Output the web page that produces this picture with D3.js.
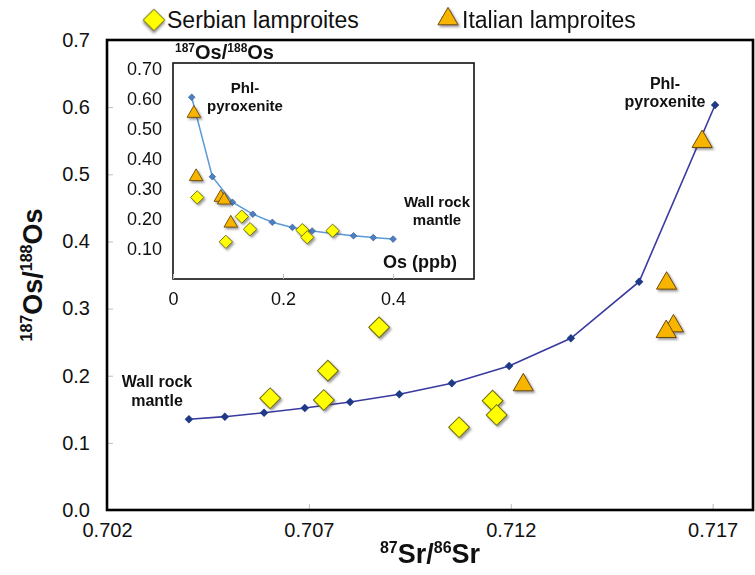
<!DOCTYPE html>
<html>
<head>
<meta charset="utf-8">
<script src="https://cdn.jsdelivr.net/npm/d3@7"></script>
<style>
  body { margin: 0; background: #fff; }
  svg { display: block; }
  text { font-family: "Liberation Sans", Arial, Helvetica, sans-serif; fill: #111; }
</style>
</head>
<body>
<svg id="chart" width="755" height="575"></svg>
<script>
// Mixing model: wall-rock mantle -> phlogopite pyroxenite (87Sr/86Sr vs 187Os/188Os)
const mixSr  = [0.70403, 0.70492, 0.70589, 0.70690, 0.70802, 0.70924, 0.71054, 0.71196, 0.71349, 0.71518, 0.71706];
const mixOs  = [0.1351, 0.1390, 0.1449, 0.1519, 0.1609, 0.1723, 0.1887, 0.2145, 0.2557, 0.3400, 0.6032];

// Serbian lamproites
const serbianSr = [0.70604, 0.70737, 0.70747, 0.70874, 0.71072, 0.71155, 0.71165];
const serbianOs = [0.1664, 0.1638, 0.2075, 0.2721, 0.1232, 0.1628, 0.1415];

// Italian lamproites
const italianSr = [0.71231, 0.71586, 0.71603, 0.71585, 0.71674];
const italianOs = [0.1862, 0.3376, 0.2740, 0.2656, 0.5486];

// Inset: Os concentration (ppb) vs 187Os/188Os
const mixPpb     = [0.034, 0.0715, 0.108, 0.145, 0.1805, 0.217, 0.253, 0.290, 0.328, 0.364, 0.400];
const mixRatio   = [0.606, 0.341, 0.256, 0.216, 0.189, 0.172, 0.160, 0.152, 0.144, 0.138, 0.133];
const serbianPpb   = [0.044, 0.125, 0.140, 0.096, 0.235, 0.244, 0.290];
const serbianRatio = [0.272, 0.208, 0.166, 0.124, 0.163, 0.139, 0.161];
const italianPpb   = [0.038, 0.042, 0.087, 0.093, 0.105];
const italianRatio = [0.552, 0.341, 0.272, 0.263, 0.186];

// Tick values
const xTicks = [0.702, 0.707, 0.712, 0.717];
const yTicks = [0.0, 0.1, 0.2, 0.3, 0.4, 0.5, 0.6, 0.7];
const insetXTicks = [0, 0.2, 0.4];
const insetYTicks = [0.10, 0.20, 0.30, 0.40, 0.50, 0.60, 0.70];

const svg = d3.select("#chart");

const COLORS = {
  yellow: "#ffff00", yellowStroke: "#6f6a10",
  orange: "#f7b500", orangeStroke: "#6b4a08",
  navy: "#1f3a86", navyLine: "#3a3aa0",
  lightLine: "#5a9ad6", lightMark: "#4e7fc0", lightMarkStroke: "#2d5290",
  tick: "#bdbdbd"
};

// soft drop shadow under the sample markers
const defs = svg.append("defs");
const f = defs.append("filter").attr("id", "shadow")
  .attr("x", "-50%").attr("y", "-50%").attr("width", "200%").attr("height", "200%");
f.append("feDropShadow").attr("dx", 1.6).attr("dy", 1.8).attr("stdDeviation", 1.1)
  .attr("flood-color", "#444").attr("flood-opacity", 0.55);

const diamond = area => d3.symbol(d3.symbolSquare, area)();
const triangle = area => d3.symbol(d3.symbolTriangle, area)();

// superscripted ratio label, e.g. 187Os/188Os
function isotopeLabel(sel, parts, big, small) {
  const shift = Math.round(small * 0.62);
  parts.forEach(([sup, txt]) => {
    sel.append("tspan").attr("font-size", small).attr("dy", -shift).text(sup);
    sel.append("tspan").attr("font-size", big).attr("dy", shift).text(txt);
  });
}

// ---------- main panel ----------
const x = d3.scaleLinear().domain([0.702, 0.718]).range([107, 753]);
const y = d3.scaleLinear().domain([0, 0.7]).range([510, 40]);

const yAxis = svg.append("g").attr("transform", `translate(${x(0.702)},0)`)
  .call(d3.axisLeft(y).tickValues(yTicks).tickSize(-6).tickPadding(17).tickFormat(d3.format(".1f")));
const xAxis = svg.append("g").attr("transform", `translate(0,${y(0)})`)
  .call(d3.axisBottom(x).tickValues(xTicks).tickSize(-6).tickPadding(13).tickFormat(d3.format(".3f")));
[yAxis, xAxis].forEach(a => {
  a.select(".domain").remove();
  a.selectAll(".tick line").attr("stroke", COLORS.tick).attr("stroke-width", 1);
  a.selectAll(".tick text").attr("font-size", 20).attr("fill", "#111")
    .attr("font-family", '"Liberation Sans", Arial, sans-serif');
});

svg.append("rect")
  .attr("x", x(0.702)).attr("y", y(0.7))
  .attr("width", x(0.718) - x(0.702)).attr("height", y(0) - y(0.7))
  .attr("fill", "none").attr("stroke", "#000").attr("stroke-width", 2.6);

const mainLine = d3.line().x(d => x(d[0])).y(d => y(d[1]));
const mix = mixSr.map((v, i) => [v, mixOs[i]]);
svg.append("path").attr("d", mainLine(mix))
  .attr("fill", "none").attr("stroke", COLORS.navyLine).attr("stroke-width", 1.6);
svg.append("g").selectAll("path").data(mix).join("path")
  .attr("d", diamond(36))
  .attr("transform", d => `translate(${x(d[0])},${y(d[1])}) rotate(45)`)
  .attr("fill", COLORS.navy);

svg.append("g").attr("filter", "url(#shadow)")
  .selectAll("path").data(serbianSr.map((v, i) => [v, serbianOs[i]])).join("path")
  .attr("d", diamond(215))
  .attr("transform", d => `translate(${x(d[0])},${y(d[1])}) rotate(45)`)
  .attr("fill", COLORS.yellow).attr("stroke", COLORS.yellowStroke).attr("stroke-width", 1);

svg.append("g").attr("filter", "url(#shadow)")
  .selectAll("path").data(italianSr.map((v, i) => [v, italianOs[i]])).join("path")
  .attr("d", triangle(175))
  .attr("transform", d => `translate(${x(d[0])},${y(d[1])})`)
  .attr("fill", COLORS.orange).attr("stroke", COLORS.orangeStroke).attr("stroke-width", 1);

// end-member labels
const endLabel = (cx, lines, base, size) => {
  const t = svg.append("text").attr("text-anchor", "middle")
    .attr("font-weight", "bold").attr("font-size", size).attr("fill", "#222");
  lines.forEach((s, i) => t.append("tspan").attr("x", cx).attr("y", base + i * 18.5).text(s));
};
endLabel(157, ["Wall rock", "mantle"], 387, 16);
endLabel(665, ["Phl-", "pyroxenite"], 88.5, 16);

// axis titles
isotopeLabel(svg.append("text").attr("x", 430).attr("y", 563)
  .attr("text-anchor", "middle").attr("font-weight", "bold"),
  [["87", "Sr/"], ["86", "Sr"]], 27, 16);
isotopeLabel(svg.append("text").attr("transform", "translate(42,275) rotate(-90)")
  .attr("text-anchor", "middle").attr("font-weight", "bold"),
  [["187", "Os/"], ["188", "Os"]], 27, 16);

// legend
const legend = svg.append("g");
legend.append("path").attr("d", diamond(235))
  .attr("transform", "translate(154,20) rotate(45)").attr("filter", "url(#shadow)")
  .attr("fill", COLORS.yellow).attr("stroke", COLORS.yellowStroke);
legend.append("text").attr("x", 167).attr("y", 28).attr("font-size", 23).text("Serbian lamproites");
legend.append("path").attr("d", triangle(175))
  .attr("transform", "translate(448,19)").attr("filter", "url(#shadow)")
  .attr("fill", COLORS.orange).attr("stroke", COLORS.orangeStroke);
legend.append("text").attr("x", 462).attr("y", 28).attr("font-size", 23).text("Italian lamproites");

// ---------- inset panel ----------
const xi = d3.scaleLinear().domain([0, 0.547]).range([173, 474]);
const yi = d3.scaleLinear().domain([0, 0.72]).range([279, 63]);

svg.append("rect")
  .attr("x", xi(0)).attr("y", yi(0.72))
  .attr("width", xi(0.547) - xi(0)).attr("height", yi(0) - yi(0.72))
  .attr("fill", "#fff").attr("stroke", "#111").attr("stroke-width", 1.6);

const iyAxis = svg.append("g").attr("transform", `translate(${xi(0)},0)`)
  .call(d3.axisLeft(yi).tickValues(insetYTicks).tickSize(0).tickPadding(11).tickFormat(d3.format(".2f")));
const ixAxis = svg.append("g").attr("transform", `translate(0,${yi(0)})`)
  .call(d3.axisBottom(xi).tickValues(insetXTicks).tickSize(-5).tickPadding(13).tickFormat(d => d === 0 ? "0" : d3.format(".1f")(d)));
[iyAxis, ixAxis].forEach(a => {
  a.select(".domain").remove();
  a.selectAll(".tick line").attr("stroke", COLORS.tick).attr("stroke-width", 1);
  a.selectAll(".tick text").attr("font-size", 18).attr("fill", "#111")
    .attr("font-family", '"Liberation Sans", Arial, sans-serif');
});

const insetLine = d3.line().x(d => xi(d[0])).y(d => yi(d[1]));
const imix = mixPpb.map((v, i) => [v, mixRatio[i]]);
svg.append("path").attr("d", insetLine(imix))
  .attr("fill", "none").attr("stroke", COLORS.lightLine).attr("stroke-width", 1.5);
svg.append("g").selectAll("path").data(imix).join("path")
  .attr("d", diamond(22))
  .attr("transform", d => `translate(${xi(d[0])},${yi(d[1])}) rotate(45)`)
  .attr("fill", COLORS.lightMark).attr("stroke", COLORS.lightMarkStroke).attr("stroke-width", 0.6);

svg.append("g").attr("filter", "url(#shadow)")
  .selectAll("path").data(serbianPpb.map((v, i) => [v, serbianRatio[i]])).join("path")
  .attr("d", diamond(88))
  .attr("transform", d => `translate(${xi(d[0])},${yi(d[1])}) rotate(45)`)
  .attr("fill", COLORS.yellow).attr("stroke", COLORS.yellowStroke).attr("stroke-width", 0.9);

svg.append("g").attr("filter", "url(#shadow)")
  .selectAll("path").data(italianPpb.map((v, i) => [v, italianRatio[i]])).join("path")
  .attr("d", triangle(80))
  .attr("transform", d => `translate(${xi(d[0])},${yi(d[1])})`)
  .attr("fill", COLORS.orange).attr("stroke", COLORS.orangeStroke).attr("stroke-width", 0.9);

isotopeLabel(svg.append("text").attr("x", 175).attr("y", 59).attr("font-weight", "bold"),
  [["187", "Os/"], ["188", "Os"]], 20, 12);

const insetLabel = (cx, lines, base, size) => {
  const t = svg.append("text").attr("text-anchor", "middle")
    .attr("font-weight", "bold").attr("font-size", size).attr("fill", "#222");
  lines.forEach((s, i) => t.append("tspan").attr("x", cx).attr("y", base + i * 18).text(s));
};
insetLabel(245, ["Phl-", "pyroxenite"], 93, 15);
insetLabel(437, ["Wall rock", "mantle"], 207, 15);

svg.append("text").attr("x", 420).attr("y", 268).attr("text-anchor", "middle")
  .attr("font-weight", "bold").attr("font-size", 18).text("Os (ppb)");
</script>
</body>
</html>
